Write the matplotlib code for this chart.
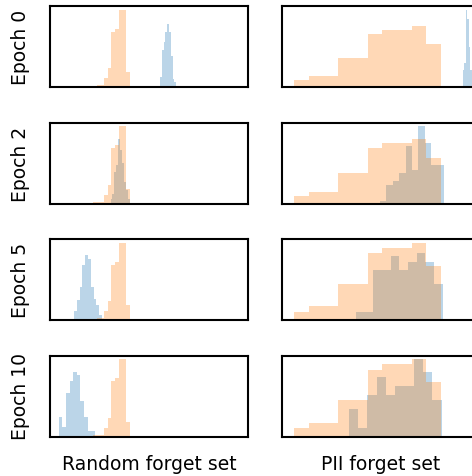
"""Histograms of per-example scores for the random and PII forget sets across epochs."""

import matplotlib

matplotlib.use("Agg")
import matplotlib.pyplot as plt
import numpy as np

# Each histogram: (low edge, high edge) of the 10 bins and the bar heights.
EPOCHS = ["Epoch 0", "Epoch 2", "Epoch 5", "Epoch 10"]
COLUMNS = ["Random forget set", "PII forget set"]

# reference distribution (same in every row)
random_ref_range = (2.17, 4.04)
random_ref_counts = [4, 5, 5, 26, 56, 164, 173, 230, 230, 44]
pii_ref_range = (0.61, 8.03)
pii_ref_counts = [20, 32, 32, 86, 86, 158, 170, 170, 182, 128]

# model distribution per epoch
random_ranges = [(5.56, 6.46), (3.06, 4.02), (1.21, 2.63), (0.44, 2.27)]
random_counts = [
    [30, 111, 135, 165, 189, 165, 93, 24, 15, 3],
    [12, 27, 94, 115, 193, 160, 120, 64, 40, 12],
    [26, 60, 98, 163, 193, 181, 98, 64, 46, 16],
    [57, 27, 130, 165, 192, 183, 105, 57, 17, 17],
]
pii_ranges = [(9.13, 9.88), (4.95, 8.17), (3.74, 8.12), (3.38, 8.07)]
pii_counts = [
    [51, 72, 231, 204, 120, 51, 24, 12, 6, 3],
    [6, 52, 63, 85, 162, 96, 218, 171, 108, 108],
    [20, 20, 117, 117, 151, 117, 138, 159, 138, 84],
    [64, 19, 97, 140, 97, 118, 118, 182, 151, 85],
]

W, H = 472, 477


def draw_hist(axis, value_range, counts, color):
    edges = np.linspace(value_range[0], value_range[1], len(counts) + 1)
    axis.hist(edges[:-1], bins=edges, weights=counts, color=color, alpha=0.3)


def main():
    fig = plt.figure(figsize=(W / 100, H / 100), dpi=100)
    col_left = [50, 282]
    ax_w, ax_h = 198, 81
    for row, label in enumerate(EPOCHS):
        top = 7 + 116.5 * row
        for col in range(2):
            axis = fig.add_axes([col_left[col] / W, 1 - (top + ax_h) / H, ax_w / W, ax_h / H])
            if col == 0:
                draw_hist(axis, random_ranges[row], random_counts[row], "#1f77b4")
                draw_hist(axis, random_ref_range, random_ref_counts, "#ff7f0e")
            else:
                draw_hist(axis, pii_ranges[row], pii_counts[row], "#1f77b4")
                draw_hist(axis, pii_ref_range, pii_ref_counts, "#ff7f0e")
            axis.set_xlim(0, 10)
            axis.set_xticks([])
            axis.set_yticks([])
            for spine in axis.spines.values():
                spine.set_linewidth(1.5)
        fig.text(20 / W, 1 - (top + ax_h / 2) / H, label, rotation=90,
                 ha="center", va="center", fontsize=13.5)

    for col, name in enumerate(COLUMNS):
        fig.text((col_left[col] + ax_w / 2) / W, 1 - 465 / H, name,
                 ha="center", va="center", fontsize=13.5)

    fig.savefig("out.png", dpi=100)
    plt.close(fig)


if __name__ == "__main__":
    main()
